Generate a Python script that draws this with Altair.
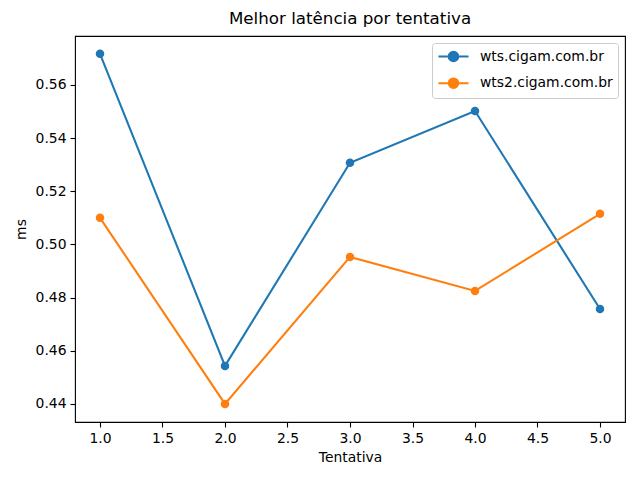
import altair as alt
import pandas as pd

tentativa = [1, 2, 3, 4, 5]
wts = [0.5717, 0.4543, 0.5307, 0.5502, 0.4757]
wts2 = [0.5100, 0.4400, 0.4953, 0.4825, 0.5115]
series_names = ["wts.cigam.com.br", "wts2.cigam.com.br"]

rows = []
for name, vals in zip(series_names, [wts, wts2]):
    for t, v in zip(tentativa, vals):
        rows.append({"Tentativa": t, "ms": v, "host": name})
df = pd.DataFrame(rows)

FONT = "DejaVu Sans"

color = alt.Color(
    "host:N",
    scale=alt.Scale(domain=series_names, range=["#1f77b4", "#ff7f0e"]),
    legend=alt.Legend(
        title=None,
        orient="top-right",
        offset=7,
        strokeColor="#cccccc",
        fillColor="white",
        padding=5,
        cornerRadius=3,
        labelFontSize=13.9,
        labelFont=FONT,
        labelColor="black",
        labelExpr="datum.label + '\u00a0\u2009'",
        symbolType="M-1,0 L3.29,0 M0.46,0 A0.68,0.68 0 1,1 1.82,0 A0.68,0.68 0 1,1 0.46,0",
        symbolSize=196,
        symbolStrokeWidth=2.08,
        labelOffset=26,
        rowPadding=7.7,
    ),
)

x = alt.X(
    "Tentativa:Q",
    scale=alt.Scale(domain=[0.8, 5.2], nice=False, zero=False),
    axis=alt.Axis(values=[1, 1.5, 2, 2.5, 3, 3.5, 4, 4.5, 5], format=".1f", title="Tentativa"),
)
y = alt.Y(
    "ms:Q",
    scale=alt.Scale(domain=[0.4332, 0.5784], nice=False, zero=False),
    axis=alt.Axis(values=[0.44, 0.46, 0.48, 0.50, 0.52, 0.54, 0.56], format=".2f", title="ms"),
)

base = alt.Chart(df)
lines = base.mark_line(strokeWidth=2.08).encode(x=x, y=y, color=color)
points = base.mark_point(filled=True, size=72, opacity=1, shape="circle").encode(x=x, y=y, color=color)

chart = (
    alt.layer(lines, points)
    .properties(
        width=550,
        height=386,
        title=alt.TitleParams("Melhor latência por tentativa", fontSize=16.7, font=FONT, fontWeight="normal", offset=8, color="black"),
        autosize=alt.AutoSizeParams(type="none"),
        padding={"left": 67, "top": 28, "right": 7, "bottom": 50},
    )
    .configure_view(stroke="black", strokeWidth=1.1)
    .configure_axis(
        grid=False,
        domain=False,
        tickColor="black",
        tickSize=5,
        tickWidth=1.1,
        labelPadding=4,
        labelFont=FONT,
        labelFontSize=13.9,
        labelColor="black",
        titleFont=FONT,
        titleFontSize=13.9,
        titleFontWeight="normal",
        titleColor="black",
    )
    .configure_axisX(titlePadding=6)
    .configure_axisY(titlePadding=7)
)

chart.save("out.html", embed_options={"renderer": "svg", "actions": False})
